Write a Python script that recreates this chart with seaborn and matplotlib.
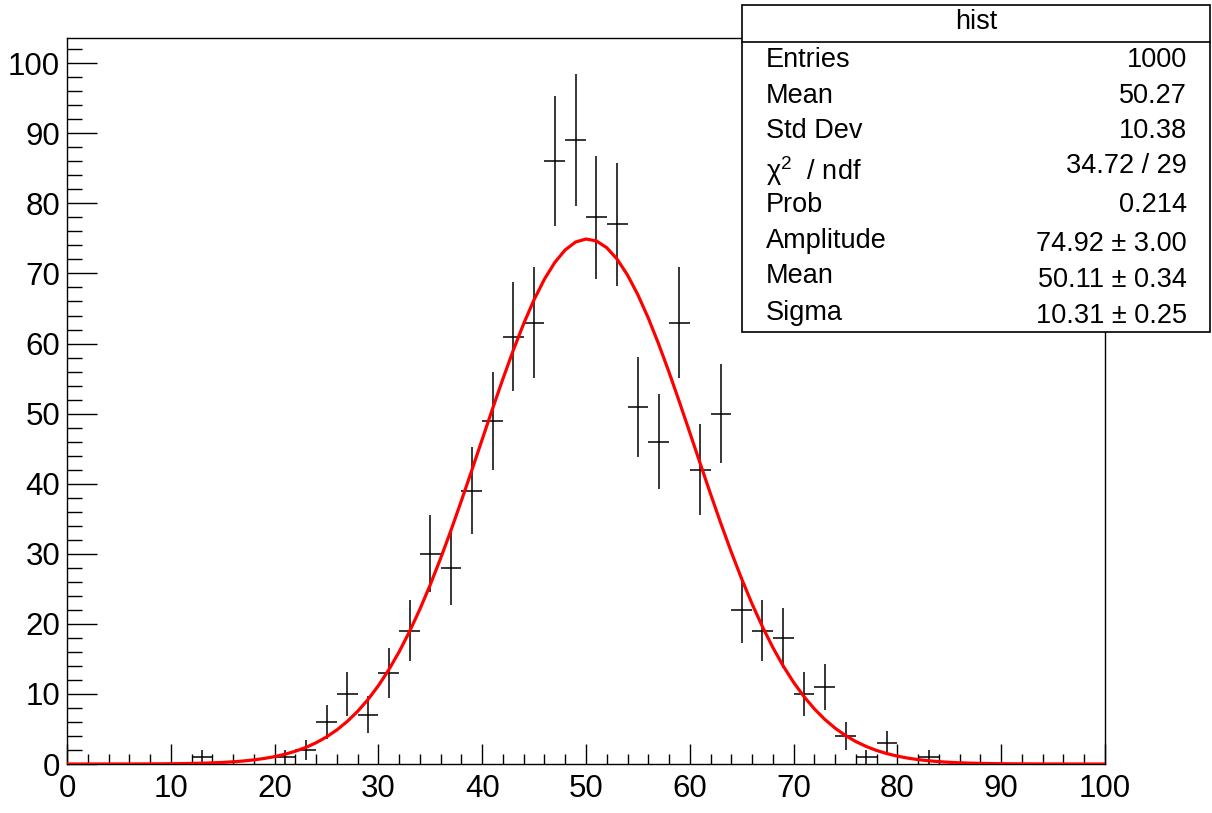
import numpy as np
import pandas as pd
import seaborn as sns
import matplotlib
matplotlib.use("Agg")
import matplotlib.pyplot as plt
from matplotlib.patches import Rectangle
from matplotlib.ticker import MultipleLocator

# histogram: 50 bins of width 2 on [0, 100]
bin_centers = list(range(1, 100, 2))
counts = [0, 0, 0, 0, 0, 0, 1, 0, 0, 0,
          1, 2, 6, 10, 7, 13, 19, 30, 28, 39,
          49, 61, 63, 86, 89, 78, 77, 51, 46, 63,
          42, 50, 22, 19, 18, 10, 11, 4, 1, 3,
          0, 1, 0, 0, 0, 0, 0, 0, 0, 0]

# gaussian fit result (from the stats box)
fit_amp = 74.92
fit_mean = 50.11
fit_sigma = 10.31

stat_labels = ["Entries", "Mean", "Std Dev", "\u03c7$^{2}$  / ndf", "Prob",
               "Amplitude", "Mean", "Sigma"]
stat_values = ["1000", "50.27", "10.38", "34.72 / 29", "0.214",
               "74.92 \u00b1 3.00", "50.11 \u00b1 0.34", "10.31 \u00b1 0.25"]

sns.set_style("ticks")
plt.rcParams['font.family'] = ['Liberation Sans', 'DejaVu Sans']
plt.rcParams['mathtext.fontset'] = 'custom'
plt.rcParams['mathtext.rm'] = 'Liberation Sans'
plt.rcParams['mathtext.it'] = 'Liberation Sans'
plt.rcParams['text.color'] = 'black'

W, H = 1212, 813
fig = plt.figure(figsize=(W / 100, H / 100), dpi=100)
ax = fig.add_axes([67 / W, 1 - 764 / H, (1105 - 67) / W, (764 - 38) / H])

hist = pd.DataFrame({'x': bin_centers, 'n': counts})
filled = hist[hist['n'] > 0]
ax.errorbar(filled['x'], filled['n'], xerr=1.0, yerr=np.sqrt(filled['n']),
            fmt='none', ecolor='black', elinewidth=1.1, capsize=0, zorder=2)

xs = np.linspace(0, 100, 101)
fit = pd.DataFrame({'x': xs,
                    'y': fit_amp * np.exp(-0.5 * ((xs - fit_mean) / fit_sigma) ** 2)})
sns.lineplot(data=fit, x='x', y='y', ax=ax, color='#ff0000', linewidth=2.3,
             zorder=3)

ax.set_xlim(0, 100)
ax.set_ylim(0, 103.6)
ax.set_xlabel('')
ax.set_ylabel('')
ax.xaxis.set_major_locator(MultipleLocator(10))
ax.xaxis.set_minor_locator(MultipleLocator(2))
ax.yaxis.set_major_locator(MultipleLocator(10))
ax.yaxis.set_minor_locator(MultipleLocator(2))
ax.tick_params(axis='both', which='both', direction='in', colors='black',
               width=1.0, labelsize=22.5)
ax.tick_params(axis='x', which='major', length=14.5, pad=7)
ax.tick_params(axis='x', which='minor', length=7.2)
ax.tick_params(axis='y', which='major', length=21.6, pad=5)
ax.tick_params(axis='y', which='minor', length=11)
for s in ax.spines.values():
    s.set_visible(True)
    s.set_color('black')
    s.set_linewidth(1.0)

# stats box in figure coordinates
bx0, bx1 = 742 / W, 1210 / W
by0, by1 = 1 - 332 / H, 1 - 5 / H
fig.patches.append(Rectangle((bx0, by0), bx1 - bx0, by1 - by0,
                             transform=fig.transFigure, facecolor='white',
                             edgecolor='black', linewidth=1.2, zorder=5))
fig.add_artist(plt.Line2D([bx0, bx1], [1 - 42 / H, 1 - 42 / H],
                          transform=fig.transFigure, color='black',
                          linewidth=1.2, zorder=6))
fig.text((bx0 + bx1) / 2, 1 - 22 / H, "hist", ha='center', va='center',
         fontsize=19.5, zorder=7)

label_y = [60, 96, 131, 171, 205, 241, 276, 313]
value_y = [60, 96, 131, 166, 205, 244, 280, 316]
for lab, val, ly, vy in zip(stat_labels, stat_values, label_y, value_y):
    fig.text(766 / W, 1 - ly / H, lab, ha='left', va='center', fontsize=19.5,
             zorder=7)
    fig.text(1187 / W, 1 - vy / H, val, ha='right', va='center', fontsize=19.5,
             zorder=7)

fig.savefig("out.png", dpi=100)
